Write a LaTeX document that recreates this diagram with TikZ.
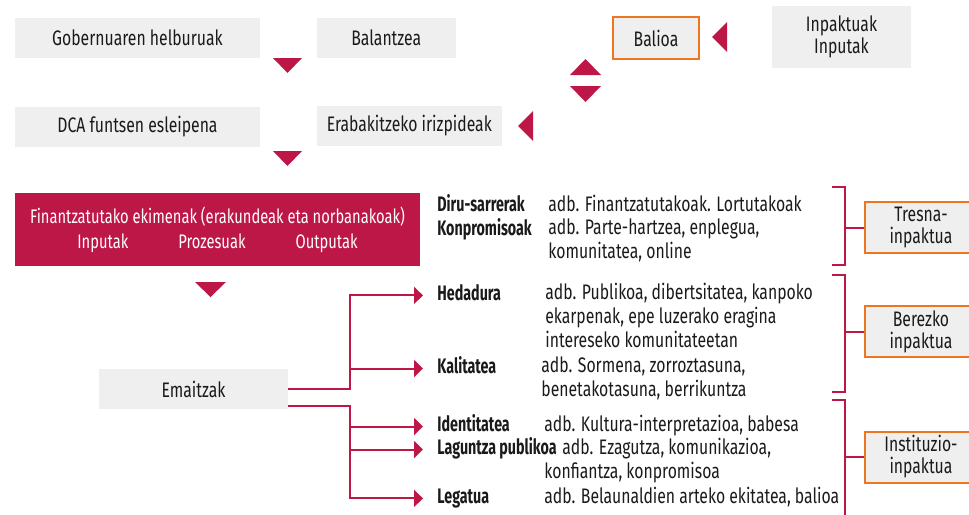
\documentclass[tikz,border=0pt]{standalone}
\usepackage{fontspec}
\setmainfont{Fira Sans}[FakeStretch=0.75]
\newfontfamily\lblfont{Fira Sans}[FakeStretch=0.68]
\usetikzlibrary{positioning, arrows.meta}
\definecolor{crimson}{HTML}{BC1747}
\definecolor{boxgray}{HTML}{EFEFEF}
\definecolor{boxorange}{HTML}{EE7623}
\definecolor{ink}{HTML}{1A1A1A}

\begin{document}
\begin{tikzpicture}[x=0.5pt, y=-0.5pt,
    every node/.style={font=\fontsize{10.5}{12}\selectfont, text=ink},
    box/.style={fill=boxgray, inner sep=0pt, minimum height=20pt, align=center},
    obox/.style={box, draw=boxorange, line width=1pt},
    redbox/.style={fill=crimson, inner sep=0pt, text=white, align=center, font=\fontsize{9.8}{12.5}\selectfont},
    wedge/.style={fill=crimson},
    link/.style={draw=crimson, line width=1pt, -{Triangle[length=4.5pt, width=8.5pt]}, shorten >=7pt},
    brace/.style={draw=crimson, line width=1pt},
    lbl/.style={inner sep=0pt, anchor=north west, execute at begin node=\strut, font=\fontsize{10.5}{12}\selectfont\lblfont\bfseries},
    desc/.style={inner sep=0pt, anchor=north west, align=left, execute at begin node=\strut},
]
    \useasboundingbox (0,0) rectangle (969,514);
    \clip (0,0) rectangle (969,514);

    % Top rows
    \node[box, minimum width=122.5pt] (helburu) at (137.5,38) {Gobernuaren helburuak};
    \node[box, minimum width=69.5pt, right=28pt of helburu] (balantze) {Balantzea};
    \node[box, minimum width=122.5pt, below=24pt of helburu] (esleipen) {DCA funtsen esleipena};
    \node[box, minimum width=92.5pt, below=23.5pt of balantze.south west, anchor=north west] (irizpide) {Erabakitzeko irizpideak};
    \node[obox, minimum width=43pt, minimum height=21pt] (balioa) at (656,38) {Balioa};
    \node[box, minimum width=69.5pt, minimum height=31pt, font=\fontsize{10.5}{11}\selectfont] (inpaktu) at (841.5,37) {Inpaktuak\\Inputak};

    % Wedges
    \fill[wedge] (273,58) -- (302,58) -- (287.5,73) -- cycle;
    \fill[wedge] (273,151) -- (302,151) -- (287.5,166) -- cycle;
    \fill[wedge] (727,22) -- (727,52) -- (712,37) -- cycle;
    \fill[wedge] (570,75) -- (601,75) -- (585.5,59) -- cycle;
    \fill[wedge] (570,86) -- (601,86) -- (585.5,102) -- cycle;
    \fill[wedge] (533,111) -- (533,141) -- (518,126) -- cycle;
    \fill[wedge] (195,282) -- (226,282) -- (210.5,297) -- cycle;

    % Funded initiatives and results
    \node[redbox, minimum width=202.5pt, minimum height=36.5pt] (ekimen) at (217.5,229.5)
        {Finantzatutako ekimenak (erakundeak eta norbanakoak)\\Inputak\hspace{25pt}Prozesuak\hspace{25pt}Outputak};
    \node[box, minimum width=94.5pt] (emaitzak) at (193.5,389) {Emaitzak};

    % Outcome labels
    \node[lbl] (diru) at (437,194) {Diru-sarrerak};
    \node[desc] (diruD) at (548,194) {adb. Finantzatutakoak. Lortutakoak};
    \node[lbl] (konpromiso) at (437,218) {Konpromisoak};
    \node[desc] (konpromisoD) at (548,218) {adb. Parte-hartzea, enplegua,\\komunitatea, online};
    \node[lbl] (hedadura) at (437,283) {Hedadura};
    \node[desc] (hedaduraD) at (545,283) {adb. Publikoa, dibertsitatea, kanpoko\\ekarpenak, epe luzerako eragina\\intereseko komunitateetan};
    \node[lbl] (kalitatea) at (437,356) {Kalitatea};
    \node[desc] (kalitateaD) at (541,356) {adb. Sormena, zorroztasuna,\\benetakotasuna, berrikuntza};
    \node[lbl] (identitatea) at (437,414) {Identitatea};
    \node[desc] (identitateaD) at (544,414) {adb. Kultura-interpretazioa, babesa};
    \node[lbl] (laguntza) at (437,437) {Laguntza publikoa};
    \node[desc] (laguntzaD) at (562,437) {adb. Ezagutza, komunikazioa,};
    \node[desc] (laguntzaE) at (544,461) {konfiantza, konpromisoa};
    \node[lbl] (legatua) at (437,486) {Legatua};
    \node[desc] (legatuaD) at (544,486) {adb. Belaunaldien arteko ekitatea, balioa};

    % Branch connectors
    \coordinate (fork1) at (350,389);
    \coordinate (fork2) at (350,406);
    \draw[link] (emaitzak.east) -- (fork1) |- (hedadura.west);
    \draw[link] (fork1) |- (kalitatea.west);
    \draw[link] (emaitzak.east |- fork2) -- (fork2) |- (legatua.west);
    \draw[link] (fork2) |- (identitatea.west);
    \draw[link] (fork2) |- (laguntza.west);

    % Impact boxes
    \node[obox, minimum width=56pt, minimum height=25.5pt, font=\fontsize{10.5}{11}\selectfont] (tresna) at (921,227.5) {Tresna-\\inpaktua};
    \node[obox, minimum width=56pt, minimum height=25.5pt, font=\fontsize{10.5}{11}\selectfont] (berezko) at (921,331.5) {Berezko\\inpaktua};
    \node[obox, minimum width=56pt, minimum height=25.5pt, font=\fontsize{10.5}{11}\selectfont] (instituzio) at (921,457) {Instituzio-\\inpaktua};

    % Brackets
    \draw[brace] (832,187) -| (845,265) -- (832,265);
    \draw[brace] (832,275) -| (845,392) -- (832,392);
    \draw[brace] (832,400) -| (845,520);
    \draw[brace] (tresna.west) -- ++(-20,0);
    \draw[brace] (berezko.west) -- ++(-20,0);
    \draw[brace] (instituzio.west) -- ++(-20,0);
\end{tikzpicture}
\end{document}
